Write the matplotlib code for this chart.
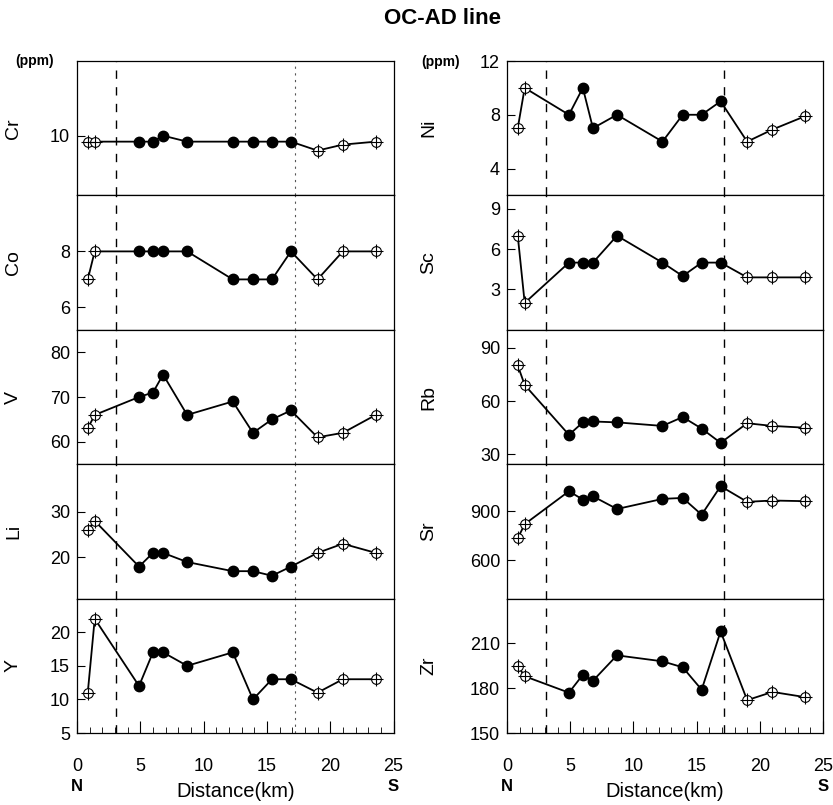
import numpy as np
import matplotlib.pyplot as plt

plt.rcParams['font.family'] = ['Liberation Sans', 'DejaVu Sans']

# -----------------------------
# Data
# -----------------------------
dist = [0.85, 1.4, 4.9, 6.0, 6.8, 8.7, 12.3, 13.9, 15.4, 16.9, 19.0, 21.0, 23.6]
filled = [False, False, True, True, True, True, True, True, True, True, False, False, False]

cr = [9.8, 9.8, 9.8, 9.8, 10.0, 9.8, 9.8, 9.8, 9.8, 9.8, 9.5, 9.7, 9.8]
co = [7, 8, 8, 8, 8, 8, 7, 7, 7, 8, 7, 8, 8]
v = [63, 66, 70, 71, 75, 66, 69, 62, 65, 67, 61, 62, 66]
li = [26, 28, 18, 21, 21, 19, 17, 17, 16, 18, 21, 23, 21]
y_ = [11, 22, 12, 17, 17, 15, 17, 10, 13, 13, 11, 13, 13]

ni = [7, 10, 8, 10, 7, 8, 6, 8, 8, 9, 6, 6.9, 7.9]
sc = [7, 2, 5, 5, 5, 7, 5, 4, 5, 5, 3.9, 3.9, 3.9]
rb = [80, 69, 41, 48, 48.5, 48, 46, 51, 44.5, 36.5, 47.5, 46, 45]
sr = [735, 822, 1024, 973, 993, 915, 977, 983, 880, 1055, 959, 967, 963]
zr = [195, 188, 177, 189, 185, 202, 198, 194, 179, 218, 172, 177.5, 174]

left_names = ['Cr', 'Co', 'V', 'Li', 'Y']
left_vals = [cr, co, v, li, y_]
left_lims = [(8, 12.5), (5.2, 10), (55, 85), (11, 40.4), (5, 25)]
left_ticks = [[10], [6, 8], [60, 70, 80], [20, 30], [5, 10, 15, 20]]

right_names = ['Ni', 'Sc', 'Rb', 'Sr', 'Zr']
right_vals = [ni, sc, rb, sr, zr]
right_lims = [(2, 12), (0, 10), (24.5, 100), (365, 1190), (150, 240)]
right_ticks = [[4, 8, 12], [3, 6, 9], [30, 60, 90], [600, 900], [150, 180, 210]]

bounds = [3.1, 17.2]

# -----------------------------
# Figure
# -----------------------------
W, H = 833, 805
fig = plt.figure(figsize=(W / 100, H / 100), dpi=100)

top_px, bot_px = 61, 733
ph = (bot_px - top_px) / 5
cols = [(77, 316.5), (507, 316)]
label_x = [22, 437]   # pixel x of the element names

d = np.array(dist)
f = np.array(filled)


def draw_panel(ax, vals, lim, ticks, name, last, left_col, lx):
    vals = np.array(vals, dtype=float)
    ax.plot(d, vals, color='black', lw=1.3, zorder=2)
    ax.plot(d[f], vals[f], 'o', color='black', ms=7.5, zorder=3)
    ax.plot(d[~f], vals[~f], 'o', mfc='white', mec='black', mew=0.8, ms=7, zorder=3)
    ax.plot(d[~f], vals[~f], '+', color='black', mew=0.8, ms=10, zorder=4)
    ax.axvline(bounds[0], color='black', lw=1.0, ls=(0, (6, 6)), zorder=1)
    if left_col:
        ax.axvline(bounds[1], color='#555555', lw=0.8, ls=(0, (2, 4)), zorder=1)
    else:
        ax.axvline(bounds[1], color='black', lw=1.0, ls=(0, (6, 6)), zorder=1)
    ax.set_xlim(0, 25)
    ax.set_ylim(*lim)
    ax.set_yticks(ticks)
    ax.tick_params(axis='y', direction='in', length=6, labelsize=13, pad=5)
    ax.set_ylabel(name, fontsize=14)
    ax.yaxis.set_label_coords(lx, 0.5)
    if last:
        ax.set_xticks(np.arange(0, 26, 5))
        ax.set_xticks(np.arange(0, 26, 1), minor=True)
        ax.tick_params(axis='x', which='major', direction='in', length=9,
                       labelsize=13, pad=18)
        ax.tick_params(axis='x', which='minor', direction='in', length=4)
    else:
        ax.set_xticks([])
    for s in ax.spines.values():
        s.set_linewidth(0.9)


for c, (names, vals_list, lims, ticks) in enumerate([
        (left_names, left_vals, left_lims, left_ticks),
        (right_names, right_vals, right_lims, right_ticks)]):
    x0, w = cols[c]
    lx = (label_x[c] - x0) / w
    for i in range(5):
        y_top = top_px + i * ph
        ax = fig.add_axes([x0 / W, 1 - (y_top + ph) / H, w / W, ph / H])
        draw_panel(ax, vals_list[i], lims[i], ticks[i], names[i], i == 4, c == 0, lx)
    fig.text((x0 + w / 2) / W, 1 - 791 / H, 'Distance(km)', fontsize=14.5,
             ha='center', va='center')
    fig.text(x0 / W, 1 - 786 / H, 'N', fontsize=12, fontweight='bold',
             ha='center', va='center')
    fig.text((x0 + w) / W, 1 - 786 / H, 'S', fontsize=12, fontweight='bold',
             ha='center', va='center')

fig.text(35 / W, 1 - 61 / H, '(ppm)', fontsize=10, fontweight='bold',
         ha='center', va='center')
fig.text(441 / W, 1 - 62 / H, '(ppm)', fontsize=10, fontweight='bold',
         ha='center', va='center')
fig.text(443 / W, 1 - 18 / H, 'OC-AD line', fontsize=16, fontweight='bold',
         ha='center', va='center')

fig.savefig('out.png', dpi=100)
